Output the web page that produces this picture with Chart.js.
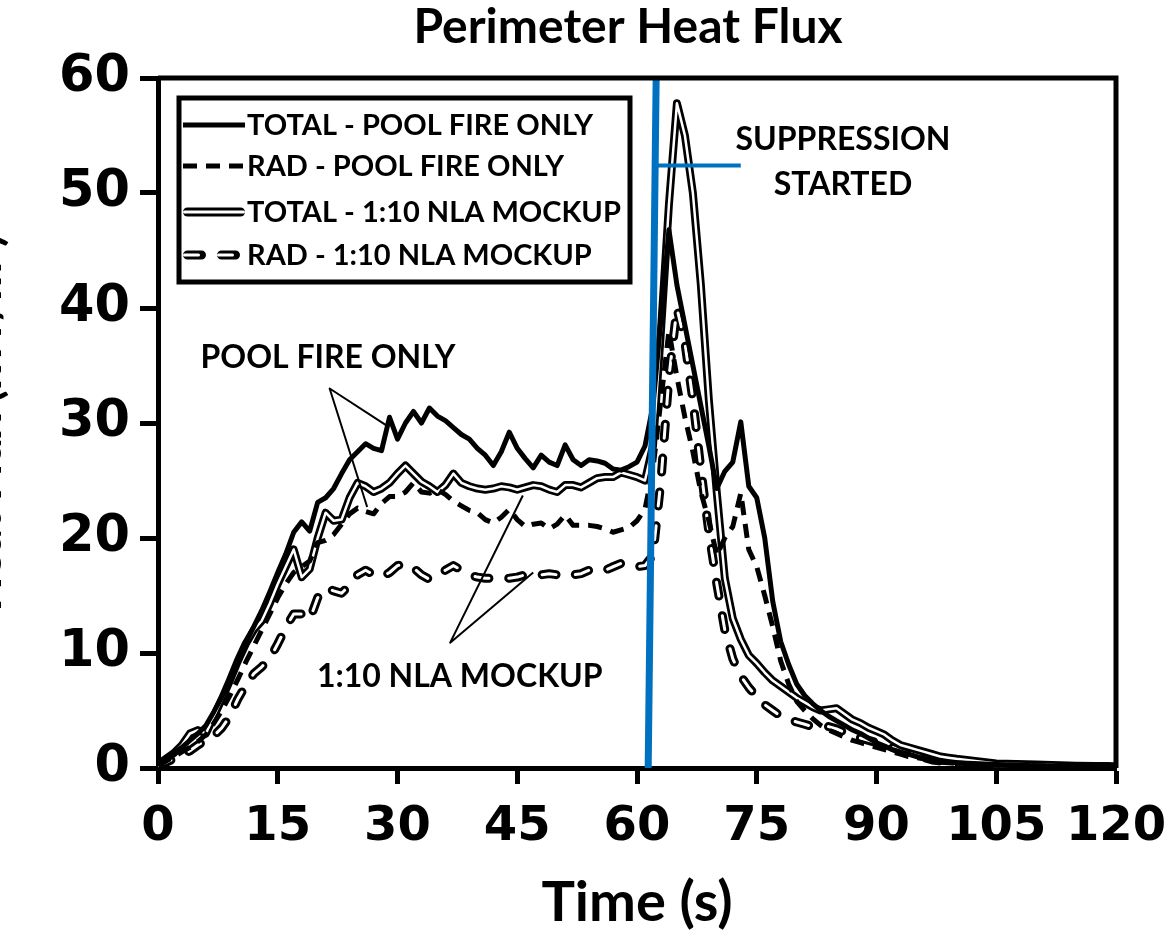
<!DOCTYPE html>
<html>
<head>
<meta charset="utf-8">
<script src="https://cdn.jsdelivr.net/npm/chart.js@4/dist/chart.umd.min.js"></script>
<style>
  html, body { margin: 0; padding: 0; background: #fff; }
  #wrap { width: 1176px; height: 937px; }
</style>
</head>
<body>
<div id="wrap"><canvas id="graficoFluxo" width="1176" height="937"></canvas></div>
<script>
"use strict";
// time (s)
const tempos = [0,1,2,3,4,5,6,7,8,9,10,11,12,13,14,15,16,17,18,19,20,21,22,23,24,25,26,27,28,29,30,
  31,32,33,34,35,36,37,38,39,40,41,42,43,44,45,46,47,48,49,50,51,52,53,54,55,56,57,58,59,60,
  61,62,63,64,65,66,67,68,69,70,71,72,73,74,75,76,77,78,79,80,81,82,83,84,85,86,87,88,89,90,
  91,92,93,94,95,96,97,98,99,100,105,110,115,120];

const totalPool = [0.3,0.8,1.3,1.8,2.4,3.0,3.7,4.9,6.2,7.6,9.2,10.9,12.3,13.7,15.3,17.0,18.6,20.5,21.4,20.6,23.1,
  23.5,24.3,25.6,26.8,27.5,28.2,27.8,27.6,30.5,28.6,30.0,31.0,30.0,31.3,30.6,30.2,29.6,29.0,28.6,27.8,
  27.2,26.3,27.5,29.2,27.8,26.9,26.1,27.2,26.6,26.3,28.1,26.8,26.3,26.8,26.7,26.5,26.0,25.9,26.2,26.6,
  28.0,31.5,39.0,46.8,42.0,38.5,35.0,31.5,28.0,24.3,25.8,26.6,30.1,24.5,23.5,20.0,14.5,11.0,9.0,7.3,
  6.3,5.6,5.0,4.5,4.1,3.7,3.3,3.0,2.6,2.2,1.9,1.6,1.4,1.2,1.0,0.8,0.7,0.6,0.5,0.45,0.3,0.2,0.15,0.1];

const radPool = [0.2,0.6,1.0,1.4,1.8,2.3,2.9,3.9,5.0,6.3,7.7,9.2,10.6,12.0,13.4,14.8,16.0,17.0,17.5,18.0,19.6,
  19.8,20.3,21.2,22.1,22.6,22.3,22.1,23.0,23.6,23.6,24.0,24.8,24.0,23.9,24.2,23.8,23.2,22.8,22.4,22.2,
  21.6,21.3,21.8,22.5,21.6,21.0,21.2,21.3,20.8,21.2,22.0,21.1,21.1,21.1,21.0,20.8,20.5,20.7,20.9,21.5,
  22.5,26.0,32.0,38.0,34.0,30.5,27.5,24.0,21.5,18.5,20.0,21.0,23.9,19.0,17.5,15.0,12.3,9.3,7.3,5.8,
  5.0,4.3,3.7,3.3,3.0,2.7,2.4,2.2,2.0,1.8,1.6,1.4,1.2,1.0,0.9,0.8,0.6,0.5,0.45,0.4,0.25,0.2,0.12,0.1];

const totalMockup = [0.3,0.8,1.3,2.0,3.0,3.3,3.0,4.5,6.0,7.6,9.3,10.8,12.0,12.8,14.3,16.0,17.5,19.0,16.6,17.3,20.0,
  22.2,21.5,21.6,23.5,24.8,24.5,24.0,24.3,24.8,25.6,26.3,25.6,24.9,24.5,24.0,24.6,25.6,24.8,24.5,24.3,
  24.2,24.3,24.5,24.4,24.2,24.4,24.6,24.5,24.2,24.0,24.6,24.6,24.4,24.8,25.2,25.3,25.3,25.7,25.5,25.3,
  25.0,28.0,38.0,49.0,57.8,55.0,50.0,42.0,32.0,23.9,16.5,13.0,11.2,9.8,9.1,8.3,7.6,7.1,6.6,6.1,
  5.7,5.3,5.0,5.1,5.2,4.7,4.2,3.9,3.5,3.2,2.9,2.4,2.0,1.8,1.6,1.4,1.2,1.0,0.9,0.8,0.4,0.3,0.2,0.15];

const radMockup = [0.2,0.5,0.8,1.1,1.5,2.0,2.4,2.8,3.5,4.5,6.0,7.2,8.2,8.8,9.5,10.8,12.2,13.4,13.4,12.9,14.8,
  15.7,15.4,15.2,15.9,16.8,17.2,16.8,16.6,17.0,17.6,17.8,17.4,16.8,16.4,16.8,17.2,17.6,17.2,16.8,16.6,
  16.5,16.5,16.6,16.5,16.6,16.8,16.7,16.8,16.9,16.8,16.6,16.8,16.9,17.2,17.0,17.2,17.5,17.8,17.5,17.5,
  17.6,18.5,25.0,34.0,40.0,37.0,32.0,26.0,20.5,16.0,12.0,9.5,8.0,7.0,6.2,5.5,5.0,4.5,4.2,4.0,
  3.8,3.6,3.6,3.6,3.4,3.1,2.8,2.6,2.4,2.2,2.0,1.8,1.5,1.3,1.1,0.9,0.7,0.6,0.5,0.4,0.2,0.15,0.1,0.1];

// suppression marker (blue) and its callout
const supressaoX = [61.4, 62.4];
const supressaoY = [0, 60];
const chamadaX = [62.4, 73.0];
const chamadaY = [52.4, 52.4];
// leader lines for the curve labels
const setaPoolX = [28.8, 21.5, 26.2];
const setaPoolY = [29.7, 33.0, 22.7];
const setaMockX = [45.7, 36.6, 47.0];
const setaMockY = [23.7, 10.9, 17.0];

const legendas = ['TOTAL - POOL FIRE ONLY', 'RAD - POOL FIRE ONLY', 'TOTAL - 1:10 NLA MOCKUP', 'RAD - 1:10 NLA MOCKUP'];
const xTicks = [0, 15, 30, 45, 60, 75, 90, 105, 120];

const FONTE = 'Lato, "Open Sans", sans-serif';
const FONTE_NUM = '"DejaVu Sans", sans-serif';

const pontos = (xs, ys) => xs.map((x, i) => ({ x: x, y: ys[i] }));
const serie = (vals) => pontos(tempos, vals);

const base = { pointRadius: 0, tension: 0, fill: false, borderJoinStyle: 'round' };

const datasets = [
  Object.assign({}, base, { label: 'setaPool', data: pontos(setaPoolX, setaPoolY), borderColor: '#000', borderWidth: 2, order: 0 }),
  Object.assign({}, base, { label: 'setaMock', data: pontos(setaMockX, setaMockY), borderColor: '#000', borderWidth: 2, order: 0 }),
  Object.assign({}, base, { label: 'supressao', data: pontos(supressaoX, supressaoY), borderColor: '#0070C0', borderWidth: 7, order: 0 }),
  Object.assign({}, base, { label: 'chamada', data: pontos(chamadaX, chamadaY), borderColor: '#0070C0', borderWidth: 4, order: 0 }),
  Object.assign({}, base, { label: legendas[0], data: serie(totalPool), borderColor: '#000', borderWidth: 5, order: 1 }),
  Object.assign({}, base, { label: legendas[1], data: serie(radPool), borderColor: '#000', borderWidth: 5, borderDash: [14, 9], order: 2 }),
  Object.assign({}, base, { label: 'totalMockupIn', data: serie(totalMockup), borderColor: '#fff', borderWidth: 2.5, order: 3 }),
  Object.assign({}, base, { label: legendas[2], data: serie(totalMockup), borderColor: '#000', borderWidth: 8, order: 4 }),
  Object.assign({}, base, { label: 'radMockupIn', data: serie(radMockup), borderColor: '#fff', borderWidth: 3, borderDash: [14, 20], borderCapStyle: 'round', order: 5 }),
  Object.assign({}, base, { label: legendas[3], data: serie(radMockup), borderColor: '#000', borderWidth: 9, borderDash: [14, 20], borderCapStyle: 'round', order: 6 })
];

// frame, title, legend box and text annotations
const extras = {
  id: 'extras',
  afterDraw(chart) {
    const ctx = chart.ctx;
    const a = chart.chartArea;
    const xs = chart.scales.x, ys = chart.scales.y;
    ctx.save();
    ctx.strokeStyle = '#000';
    ctx.lineWidth = 5;
    ctx.beginPath();
    ctx.moveTo(a.left, a.top);
    ctx.lineTo(a.right, a.top);
    ctx.lineTo(a.right, a.bottom);
    ctx.stroke();

    ctx.fillStyle = '#000';
    ctx.textAlign = 'center';
    ctx.textBaseline = 'middle';
    ctx.font = 'bold 48px ' + FONTE;
    ctx.fillText('Perimeter Heat Flux', 628, 28);

    // y title, mostly clipped at the page edge
    ctx.save();
    ctx.translate(1, ys.getPixelForValue(30));
    ctx.rotate(-Math.PI / 2);
    ctx.textBaseline = 'alphabetic';
    ctx.font = 'bold 46px ' + FONTE;
    ctx.fillText('Heat Flux (kW/m²)', 0, 0);
    ctx.restore();

    ctx.font = 'bold 32px ' + FONTE;
    const rotulo = (txt, t, v) => ctx.fillText(txt, xs.getPixelForValue(t), ys.getPixelForValue(v));
    rotulo('POOL FIRE ONLY', 21.3, 35.7);
    rotulo('1:10 NLA MOCKUP', 37.8, 7.9);
    rotulo('SUPPRESSION', 85.8, 54.6);
    rotulo('STARTED', 85.8, 50.7);

    // legend
    const lx = a.left + 21, ly = a.top + 20, lw = 451, lh = 184;
    ctx.fillStyle = '#fff';
    ctx.fillRect(lx, ly, lw, lh);
    ctx.lineWidth = 5;
    ctx.strokeStyle = '#000';
    ctx.strokeRect(lx, ly, lw, lh);
    const linhas = [ly + 27, ly + 68, ly + 114, ly + 157];
    const x0 = lx + 4, x1 = lx + 66;
    const traco = (y, w, color, dash, cap) => {
      ctx.save();
      ctx.strokeStyle = color; ctx.lineWidth = w; ctx.setLineDash(dash); ctx.lineCap = cap;
      ctx.beginPath(); ctx.moveTo(x0 + (cap === 'round' ? w / 2 : 0), y); ctx.lineTo(x1 - (cap === 'round' ? w / 2 : 0), y); ctx.stroke();
      ctx.restore();
    };
    traco(linhas[0], 5, '#000', [], 'butt');
    traco(linhas[1], 5, '#000', [14, 9], 'butt');
    traco(linhas[2], 9, '#000', [], 'round');
    traco(linhas[2], 3, '#fff', [], 'round');
    traco(linhas[3], 9, '#000', [14, 20], 'round');
    traco(linhas[3], 3, '#fff', [14, 20], 'round');
    ctx.fillStyle = '#000';
    ctx.textAlign = 'left';
    ctx.font = 'bold 29px ' + FONTE;
    legendas.forEach((txt, i) => ctx.fillText(txt, x1 + 2, linhas[i] + 1));
    ctx.restore();
  }
};

const ctx = document.getElementById('graficoFluxo').getContext('2d');
const grafico = new Chart(ctx, {
  type: 'line',
  data: { datasets: datasets },
  options: {
    responsive: false,
    animation: false,
    layout: { padding: { top: 78, right: 60, left: 0, bottom: 0 } },
    plugins: { legend: { display: false }, tooltip: { enabled: false } },
    scales: {
      x: {
        type: 'linear', min: 0, max: 120,
        afterBuildTicks: (s) => { s.ticks = xTicks.map(v => ({ value: v })); },
        afterFit: (s) => { s.height = 169; s.paddingLeft = 0; s.paddingRight = 0; },
        grid: { drawOnChartArea: false, drawTicks: true, tickLength: 16, tickWidth: 5, tickColor: '#000' },
        border: { display: true, width: 5, color: '#000' },
        ticks: { color: '#000', font: { family: FONTE_NUM, size: 48, weight: 'bold' }, padding: 15, maxRotation: 0, autoSkip: false },
        title: { display: true, text: 'Time (s)', color: '#000', font: { family: FONTE, size: 56, weight: 'bold' }, padding: { top: 0, bottom: 0 } }
      },
      y: {
        type: 'linear', min: 0, max: 60,
        afterFit: (s) => { s.width = 158; s.paddingTop = 0; s.paddingBottom = 0; },
        grid: { drawOnChartArea: false, drawTicks: true, tickLength: 18, tickWidth: 5, tickColor: '#000' },
        border: { display: true, width: 5, color: '#000' },
        ticks: { stepSize: 10, color: '#000', font: { family: FONTE_NUM, size: 51, weight: 'bold' }, padding: 10 }
      }
    }
  },
  plugins: [extras]
});
</script>
</body>
</html>
